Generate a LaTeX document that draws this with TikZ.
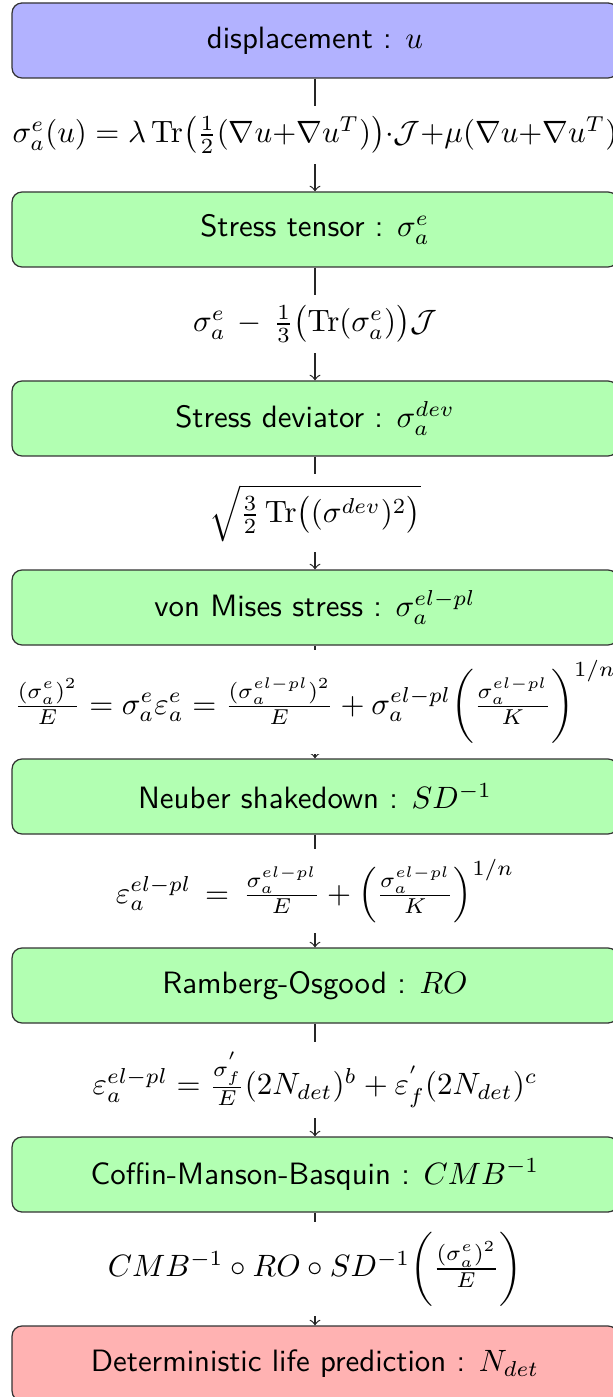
\documentclass[tikz,border=0pt]{standalone}
\usepackage{amsmath}
\begin{document}
\begin{tikzpicture}[x=0.324pt,y=-0.324pt,
  box/.style={draw=black!80, rounded corners=3.2pt, minimum width=196.3pt, minimum height=24.3pt, font=\sffamily, line width=0.4pt},
  conn/.style={->, draw=black!85, line width=0.4pt},
  lab/.style={fill=white, inner sep=3.3pt}]
\useasboundingbox (0,0) rectangle (612,1397);
\node[box, fill=blue!30] (b1) at (315,40.5) {displacement : $u$};
\node[box, fill=green!30] (b2) at (315,229.5) {Stress tensor : $\sigma_a^e$};
\node[box, fill=green!30] (b3) at (315,418.5) {Stress deviator : $\sigma_a^{dev}$};
\node[box, fill=green!30] (b4) at (315,607.5) {von Mises stress : $\sigma_a^{el-pl}$};
\node[box, fill=green!30] (b5) at (315,796.5) {Neuber shakedown : $SD^{-1}$};
\node[box, fill=green!30] (b6) at (315,985.5) {Ramberg-Osgood : $RO$};
\node[box, fill=green!30] (b7) at (315,1174.5) {Coffin-Manson-Basquin : $CMB^{-1}$};
\node[box, fill=red!30] (b8) at (315,1363.5) {Deterministic life prediction : $N_{det}$};
\draw[conn] (b1) -- node[lab] {$\sigma_a^e(u) = \lambda\,\mathrm{Tr}\big(\frac{1}{2}(\nabla u{+}\nabla u^T)\big){\cdot}\mathcal{J}{+}\mu(\nabla u{+}\nabla u^T)$} (b2);
\draw[conn] (b2) -- node[lab] {$\sigma_a^e \,-\, \frac{1}{3}\big(\mathrm{Tr}(\sigma_a^e)\big)\mathcal{J}$} (b3);
\draw[conn] (b3) -- node[lab] {$\sqrt{\frac{3}{2}\,\mathrm{Tr}\big((\sigma^{dev})^2\big)}$} (b4);
\draw[conn] (b4) -- node[lab] {$\frac{(\sigma_a^e)^2}{E} = \sigma_a^e\varepsilon_a^e = \frac{(\sigma_a^{el-pl})^2}{E} + \sigma_a^{el-pl}\bigg(\frac{\sigma_a^{el-pl}}{K}\bigg)^{1/n}$} (b5);
\draw[conn] (b5) -- node[lab] {$\varepsilon_a^{el-pl} \,=\, \frac{\sigma_a^{el-pl}}{E} + \Big(\frac{\sigma_a^{el-pl}}{K}\Big)^{1/n}$} (b6);
\draw[conn] (b6) -- node[lab] {$\varepsilon_a^{el-pl} = \frac{\sigma_f^{'}}{E}(2N_{det})^b + \varepsilon_f^{'}(2N_{det})^c$} (b7);
\draw[conn] (b7) -- node[lab] {$CMB^{-1}\circ RO\circ SD^{-1}\bigg(\frac{(\sigma_a^e)^2}{E}\bigg)$} (b8);
\end{tikzpicture}
\end{document}
